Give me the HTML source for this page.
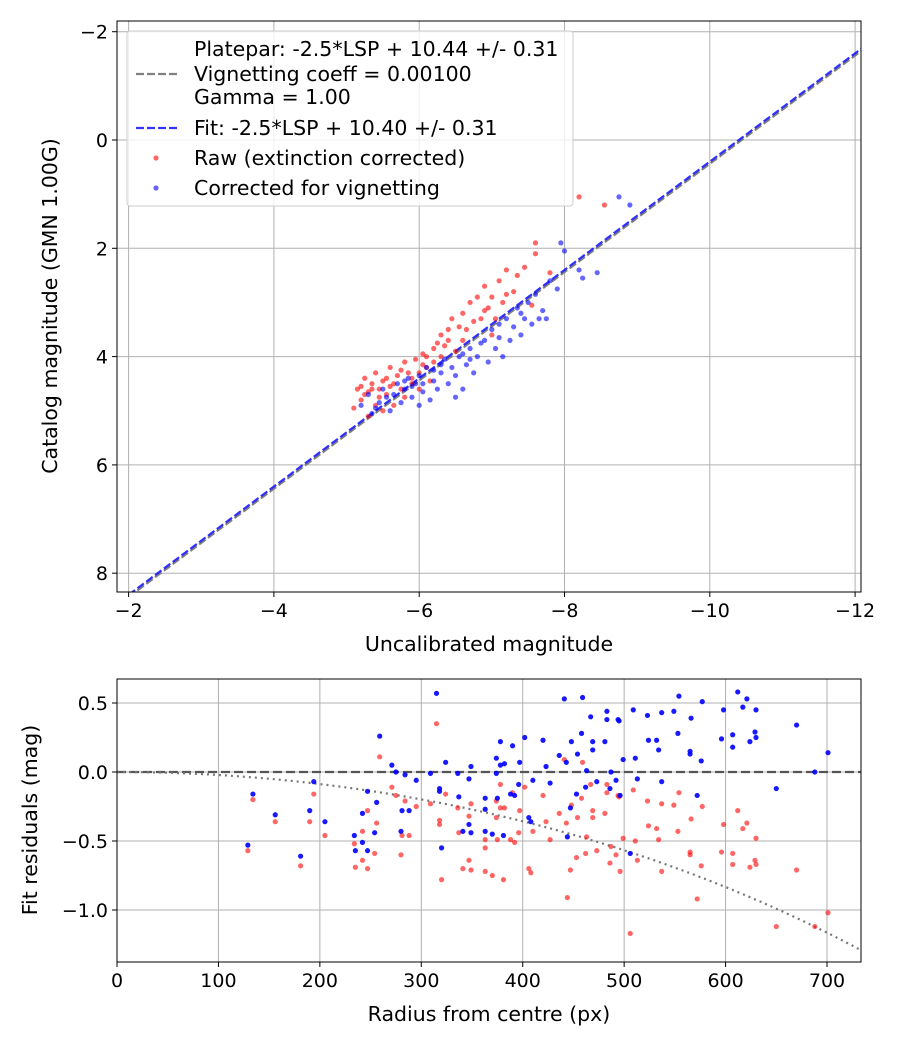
<!DOCTYPE html>
<html><head><meta charset="utf-8"><style>
body{margin:0;background:#fff;font-family:"Liberation Sans","DejaVu Sans",sans-serif}
svg text{font-family:"DejaVu Sans","Liberation Sans",sans-serif;fill:#000}
</style></head><body>
<svg id="svg" width="900" height="1050" xmlns="http://www.w3.org/2000/svg">
<rect width="900" height="1050" fill="#fff"/>
<g id="top"></g>
<g id="bot"></g>
</svg>
<script>
// ---- top chart data ----
const rawX=[-5.1,-5.15,-5.2,-5.2,-5.25,-5.3,-5.3,-5.35,-5.4,-5.4,-5.45,-5.5,-5.5,-5.55,-5.6,-5.6,-5.65,-5.7,-5.75,-5.8,-5.8,-5.85,-5.9,-5.95,-6.0,-6.0,-6.05,-6.1,-6.15,-6.2,-6.2,-6.3,-6.3,-6.35,-6.4,-6.45,-6.5,-6.55,-6.6,-6.6,-6.7,-6.75,-6.8,-6.85,-6.9,-6.95,-7.0,-7.05,-7.1,-7.15,-7.2,-7.3,-7.35,-7.45,-7.55,-7.6,-7.6,-7.8,-8.2,-8.55,-7.0,-5.25,-5.45,-5.65,-5.9,-6.1,-6.4,-6.65,-6.9,-7.2,-5.35,-5.55,-5.75,-6.05,-6.25];
const rawY=[4.95,4.6,4.55,4.8,4.4,4.65,5.1,4.5,4.3,4.9,4.6,4.45,5.0,4.7,4.2,4.55,4.9,4.35,4.6,4.1,4.75,4.3,4.5,4.05,4.3,4.6,3.95,4.2,4.45,3.85,4.1,3.6,4.0,3.8,3.5,3.3,3.9,3.45,3.2,3.7,3.0,3.35,2.9,3.3,2.7,3.1,2.9,3.3,2.6,3.0,2.4,2.8,2.5,2.35,3.05,1.9,2.1,2.45,1.05,1.2,3.6,4.7,4.75,4.5,4.4,4.0,3.7,3.5,3.15,2.85,4.6,4.4,4.25,4.15,3.75];
const corX=[-5.2,-5.3,-5.35,-5.45,-5.5,-5.6,-5.65,-5.7,-5.75,-5.8,-5.85,-5.9,-5.95,-6.0,-6.05,-6.1,-6.15,-6.2,-6.25,-6.3,-6.35,-6.4,-6.45,-6.5,-6.55,-6.6,-6.65,-6.7,-6.75,-6.8,-6.9,-6.95,-7.0,-7.05,-7.1,-7.15,-7.2,-7.25,-7.3,-7.35,-7.4,-7.45,-7.5,-7.55,-7.6,-7.65,-7.7,-7.75,-7.8,-7.9,-7.95,-8.0,-8.2,-8.25,-8.45,-8.75,-8.9,-6.0,-6.5,-5.55,-5.8,-6.05,-6.3,-6.6,-6.85,-7.1,-7.4,-5.4,-5.9,-6.2,-6.7];
const corY=[4.9,4.7,5.05,4.85,4.6,5.0,4.7,4.5,4.85,4.6,4.4,4.75,4.5,4.35,4.65,4.2,4.8,4.45,4.6,4.3,4.05,4.5,4.2,4.35,4.0,4.6,4.15,3.85,4.3,4.0,3.7,4.1,3.5,3.85,3.65,4.0,3.3,3.7,3.45,3.1,3.6,3.3,3.0,3.4,2.85,3.3,3.15,3.3,2.6,2.75,1.9,2.05,2.4,2.55,2.45,1.05,1.2,4.9,4.75,4.75,4.45,4.5,4.15,3.95,3.75,3.4,3.2,4.95,4.55,4.25,4.05];
const fitZero=10.40, ppZero=10.44;
const xTicks=[-2,-4,-6,-8,-10,-12];
const yTicks=[-2,0,2,4,6,8];
// ---- bottom chart data ----
const radius=[134,156,129,181,194,190,205,234,247,242,242,247,235,259,271,275,284,295,256,281,288,254,280,315,309,324,318,318,336,349,347,337,347,341,349,320,363,363,363,370,381,375,374,378,378,382,374,390,397,402,396,388,392,406,408,410,420,423,427,436,441,443,448,454,458,459,463,467,469,469,447,444,453,462,473,481,483,483,487,486,492,494,495,509,523,537,549,554,566,577,598,612,621,617,630,670,701,499,511,524,532,534,553,565,565,576,596,607,607,624,629,630,496,513,537,572,650,688,506];
const resCorr=[-0.16,-0.31,-0.53,-0.61,-0.07,-0.28,-0.36,-0.46,-0.14,-0.30,-0.51,-0.57,-0.57,0.26,0.05,0.0,-0.02,-0.06,-0.22,-0.28,-0.28,-0.44,-0.43,0.57,-0.01,0.07,-0.12,-0.14,-0.01,0.04,-0.05,-0.18,-0.38,-0.43,-0.44,-0.55,-0.19,-0.27,-0.43,-0.45,-0.46,-0.19,0.10,0.22,0.05,0.06,-0.01,0.19,0.07,0.25,-0.09,-0.16,-0.17,-0.33,-0.36,-0.06,0.23,0.04,-0.08,0.12,0.53,0.07,0.22,0.13,0.28,0.54,0.01,0.40,0.22,0.16,-0.26,-0.47,-0.16,-0.11,-0.07,0.22,0.44,0.38,0.0,-0.12,-0.06,0.38,0.37,0.45,0.41,0.43,0.44,0.55,0.39,0.51,0.45,0.58,0.53,0.47,0.45,0.34,0.14,0.09,0.10,0.23,0.23,0.16,0.28,0.15,0.13,0.08,0.24,0.27,0.18,0.22,0.29,0.25,-0.17,-0.05,-0.07,-0.17,-0.12,0.0,-0.59];
const resRaw=[-0.20,-0.36,-0.57,-0.68,-0.16,-0.36,-0.46,-0.52,-0.28,-0.43,-0.64,-0.70,-0.69,0.11,-0.11,-0.17,-0.21,-0.25,-0.37,-0.46,-0.46,-0.59,-0.60,0.35,-0.23,-0.16,-0.35,-0.38,-0.26,-0.23,-0.32,-0.44,-0.64,-0.70,-0.71,-0.78,-0.49,-0.55,-0.72,-0.75,-0.78,-0.49,-0.21,-0.09,-0.26,-0.26,-0.33,-0.15,-0.28,-0.11,-0.44,-0.49,-0.51,-0.70,-0.73,-0.43,-0.17,-0.36,-0.49,-0.30,0.09,-0.37,-0.24,-0.33,-0.19,0.07,-0.47,-0.09,-0.28,-0.33,-0.71,-0.91,-0.62,-0.59,-0.57,-0.30,-0.09,-0.15,-0.54,-0.66,-0.60,-0.17,-0.18,-0.13,-0.21,-0.23,-0.24,-0.15,-0.34,-0.25,-0.38,-0.28,-0.37,-0.41,-0.48,-0.71,-1.02,-0.48,-0.50,-0.39,-0.41,-0.49,-0.43,-0.58,-0.60,-0.68,-0.58,-0.59,-0.67,-0.69,-0.64,-0.67,-0.72,-0.64,-0.72,-0.92,-1.12,-1.12,-1.17];
const rTicks=[0,100,200,300,400,500,600,700];
const resTicks=[0.5,0.0,-0.5,-1.0];
const rTickLabels=["0","100","200","300","400","500","600","700"];
const resTickLabels=["0.5","0.0","\u22120.5","\u22121.0"];
const vignCoeff=0.001;

const NS="http://www.w3.org/2000/svg";
const TICK_FS=19, TITLE_FS=20.5, LEG_FS=20.5;
function mk(parent,tag,attrs){const e=document.createElementNS(NS,tag);for(const k in attrs)e.setAttribute(k,attrs[k]);parent.appendChild(e);return e;}
function lab(v){return v<0?"\u2212"+Math.abs(v):String(v);}

// ---- top ----
const T=document.getElementById('top');
const tL=117,tR=861,tT=21,tB=592;
const sx=v=>128.6+(v-(-2))*(-72.65);
const sy=v=>140+v*54.15;
const ctp=mk(T,'clipPath',{id:'ct'});mk(ctp,'rect',{x:tL,y:tT,width:tR-tL,height:tB-tT});
xTicks.forEach(v=>{const x=sx(v);
 const g=mk(T,'line',{x1:x,x2:x,y1:tT,y2:tB,stroke:'#b0b0b0','stroke-width':1});
 
 mk(T,'line',{x1:x,x2:x,y1:tB,y2:tB+5,stroke:'#000'});
 const t=mk(T,'text',{x:x,y:tB+25,'font-size':TICK_FS,'text-anchor':'middle'});t.textContent=lab(v);
 });
yTicks.forEach(v=>{const y=sy(v);
 const g=mk(T,'line',{x1:tL,x2:tR,y1:y,y2:y,stroke:'#b0b0b0','stroke-width':1});
 
 mk(T,'line',{x1:tL-5,x2:tL,y1:y,y2:y,stroke:'#000'});
 const t=mk(T,'text',{x:tL-9,y:y+7,'font-size':TICK_FS,'text-anchor':'end'});t.textContent=lab(v);
 });
const pg=mk(T,'g',{'clip-path':'url(#ct)'});
const pp=mk(pg,'line',{x1:sx(-2),y1:sy(-2+ppZero),x2:sx(-12.5),y2:sy(-12.5+ppZero),stroke:'#808080','stroke-width':2.2,'stroke-dasharray':'8,3'});

const fl=mk(pg,'line',{x1:sx(-2),y1:sy(-2+fitZero),x2:sx(-12.5),y2:sy(-12.5+fitZero),stroke:'#0000ff','stroke-opacity':0.8,'stroke-width':2.2,'stroke-dasharray':'8,3'});

rawX.forEach((x,i)=>{const c=mk(pg,'circle',{cx:sx(x),cy:sy(rawY[i]),r:2.6,fill:'#ff0000','fill-opacity':0.6});
 });
corX.forEach((x,i)=>{const c=mk(pg,'circle',{cx:sx(x),cy:sy(corY[i]),r:2.6,fill:'#0000ff','fill-opacity':0.6});
 });
mk(T,'rect',{x:tL,y:tT,width:tR-tL,height:tB-tT,fill:'none',stroke:'#000','stroke-width':1});
// legend
const lg=mk(T,'g',{});
mk(lg,'rect',{x:127,y:31,width:446,height:175,rx:3,fill:'#fff','fill-opacity':0.8,stroke:'#ccc'});
mk(lg,'line',{x1:136,x2:180,y1:74,y2:74,stroke:'#808080','stroke-width':2.2,'stroke-dasharray':'8,3'});
mk(lg,'line',{x1:136,x2:180,y1:128,y2:128,stroke:'#0000ff','stroke-opacity':0.8,'stroke-width':2.2,'stroke-dasharray':'8,3'});
mk(lg,'circle',{cx:156,cy:158,r:2.6,fill:'#ff0000','fill-opacity':0.6});
mk(lg,'circle',{cx:156,cy:188,r:2.6,fill:'#0000ff','fill-opacity':0.6});
[["Platepar: -2.5*LSP + 10.44 +/- 0.31",56],["Vignetting coeff = 0.00100",81],["Gamma = 1.00",104],["Fit: -2.5*LSP + 10.40 +/- 0.31",135],["Raw (extinction corrected)",165],["Corrected for vignetting",195]].forEach(([s,y])=>{
 const t=mk(lg,'text',{x:194,y:y,'font-size':LEG_FS});t.textContent=s;});
let t=mk(T,'text',{x:489,y:651,'font-size':TITLE_FS,'text-anchor':'middle'});t.textContent='Uncalibrated magnitude';

t=mk(T,'text',{x:0,y:0,'font-size':TITLE_FS,'text-anchor':'middle',transform:'translate(57,306) rotate(-90)'});t.textContent='Catalog magnitude (GMN 1.00G)';


// ---- bottom ----
const B=document.getElementById('bot');
const bL=117,bR=861,bT=679,bB=962;
const bx=v=>117+v*1.0143;
const by=v=>772-v*138;
const cp=mk(B,'clipPath',{id:'cb'});mk(cp,'rect',{x:bL,y:bT,width:bR-bL,height:bB-bT});
rTicks.forEach((v,i)=>{const x=bx(v);
 const g=mk(B,'line',{x1:x,x2:x,y1:bT,y2:bB,stroke:'#b0b0b0','stroke-width':1});
 
 mk(B,'line',{x1:x,x2:x,y1:bB,y2:bB+5,stroke:'#000'});
 const t=mk(B,'text',{x:x,y:bB+25,'font-size':TICK_FS,'text-anchor':'middle'});t.textContent=rTickLabels[i];
 });
resTicks.forEach((v,i)=>{const y=by(v);
 const g=mk(B,'line',{x1:bL,x2:bR,y1:y,y2:y,stroke:'#b0b0b0','stroke-width':1});
 
 mk(B,'line',{x1:bL-5,x2:bL,y1:y,y2:y,stroke:'#000'});
 const t=mk(B,'text',{x:bL-9,y:y+7,'font-size':TICK_FS,'text-anchor':'end'});t.textContent=resTickLabels[i];
 });
const bg=mk(B,'g',{'clip-path':'url(#cb)'});
const zl=mk(bg,'line',{x1:bL,x2:bR,y1:by(0),y2:by(0),stroke:'#555','stroke-width':2.2,'stroke-dasharray':'9,4'});

let d='';for(let r=0;r<=740;r+=5){const v=2.5*Math.log10(Math.pow(Math.cos(r*vignCoeff),4));d+=(r?'L':'M')+bx(r).toFixed(1)+','+by(v).toFixed(1);}
const vc=mk(bg,'path',{d:d,fill:'none',stroke:'#777','stroke-width':2.2,'stroke-dasharray':'2,4'});

radius.forEach((r,i)=>{const c=mk(bg,'circle',{cx:bx(r),cy:by(resRaw[i]),r:2.6,fill:'#ff0000','fill-opacity':0.6});
 });
radius.forEach((r,i)=>{const c=mk(bg,'circle',{cx:bx(r),cy:by(resCorr[i]),r:2.6,fill:'#0000ff','fill-opacity':0.9});
 });
mk(B,'rect',{x:bL,y:bT,width:bR-bL,height:bB-bT,fill:'none',stroke:'#000','stroke-width':1});
t=mk(B,'text',{x:489,y:1021,'font-size':TITLE_FS,'text-anchor':'middle'});t.textContent='Radius from centre (px)';

t=mk(B,'text',{x:0,y:0,'font-size':TITLE_FS,'text-anchor':'middle',transform:'translate(37,820) rotate(-90)'});t.textContent='Fit residuals (mag)';

</script>
</body></html>
